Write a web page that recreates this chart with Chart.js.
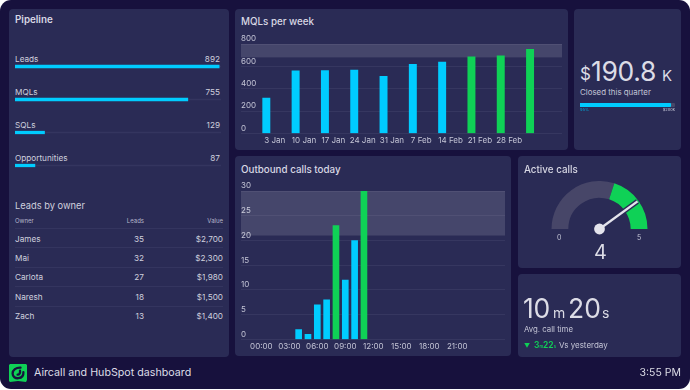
<!DOCTYPE html>
<html>
<head>
<meta charset="utf-8">
<title>Aircall and HubSpot dashboard</title>
<script src="https://cdn.jsdelivr.net/npm/chart.js@4"></script>
<style>
  html, body { margin: 0; padding: 0; background: #fff; }
  body { width: 690px; height: 390px; overflow: hidden; font-family: Inter, sans-serif; color: #dcdce6; }
  #frame { position: absolute; left: 0; top: 0; width: 690px; height: 389px; background: #17113d; border-radius: 11px; overflow: hidden; }
  .card { position: absolute; background: #2a2b55; border-radius: 4px; }
  .abs { position: absolute; white-space: nowrap; }
  .title { font-size: 9.8px; font-weight: 500; color: #d8d8e4; }
  canvas { position: absolute; }
  .row-label { font-size: 8.2px; color: #cfd0de; }
  .num { text-align: right; }
  .rule { position: absolute; left: 15px; width: 208px; height: 1px; background: #34355f; }
  #logo { position: absolute; left: 9px; top: 364px; width: 18px; height: 18px; }
</style>
</head>
<body>
<div id="frame">
  <div class="card" style="left:9px;top:9px;width:220px;height:348px"></div>
  <div class="card" style="left:235px;top:9px;width:333px;height:141px"></div>
  <div class="card" style="left:574px;top:9px;width:107px;height:141px"></div>
  <div class="card" style="left:235px;top:156px;width:276px;height:200px"></div>
  <div class="card" style="left:518px;top:156px;width:163px;height:112px"></div>
  <div class="card" style="left:518px;top:274px;width:163px;height:83px"></div>

  <div class="abs title" style="left:15px;top:14px;font-weight:600">Pipeline</div>
  <div id="pipelineText"></div>
  <canvas id="pipelineChart" style="left:15px;top:50px"></canvas>

  <div class="abs" style="left:15px;top:200px;font-size:9.3px;color:#cfd0de">Leads by owner</div>
  <div id="ownerTable"></div>

  <div class="abs title" style="left:241px;top:16px">MQLs per week</div>
  <canvas id="mqlChart" style="left:241px;top:30px"></canvas>

  <div class="abs" style="left:580px;top:64px;font-size:17px">$</div>
  <div class="abs" style="left:591px;top:55px;font-size:26.5px;letter-spacing:-.3px">190.8</div>
  <div class="abs" style="left:662px;top:66px;font-size:15px">K</div>
  <div class="abs" style="left:580px;top:87px;font-size:7.9px;color:#c4c5d6">Closed this quarter</div>
  <canvas id="closedChart" style="left:580px;top:102px"></canvas>
  <div class="abs" style="left:580px;top:107px;font-size:4px;color:#00a8d8">95%</div>
  <div class="abs" style="right:15px;top:107px;font-size:4px;color:#c4c5d6">$200k</div>

  <div class="abs title" style="left:241px;top:164px">Outbound calls today</div>
  <canvas id="callsChart" style="left:241px;top:177px"></canvas>

  <div class="abs title" style="left:524px;top:164px">Active calls</div>
  <canvas id="gaugeChart" style="left:551px;top:181px"></canvas>
  <div class="abs" style="left:557px;top:233px;font-size:7px;color:#c4c5d6">0</div>
  <div class="abs" style="left:637px;top:233px;font-size:7px;color:#c4c5d6">5</div>
  <div class="abs" id="gaugeText" style="left:594px;top:240px;font-size:20px"></div>

  <div class="abs" style="left:523px;top:292px;font-size:26.5px;letter-spacing:-.3px">10</div>
  <div class="abs" style="left:553px;top:304px;font-size:14px">m</div>
  <div class="abs" style="left:568px;top:292px;font-size:26.5px">20</div>
  <div class="abs" style="left:602px;top:304px;font-size:14px">s</div>
  <div class="abs" style="left:524px;top:324px;font-size:7.8px;color:#c4c5d6">Avg. call time</div>
  <div class="abs" style="left:524px;top:342px;font-size:6px;color:#0fd156">▼</div>
  <div class="abs" style="left:534px;top:340px;font-size:8.5px;color:#0fd156;font-weight:600">3<span style="font-size:4px">m</span>22<span style="font-size:4px">s</span></div>
  <div class="abs" style="left:559px;top:340px;font-size:8px;color:#c4c5d6">Vs yesterday</div>

  <svg id="logo" viewBox="0 0 18 18">
    <path d="M1 0H17L18 1V16L17 18L9 17L1 18L0 17V1Z" fill="#0fd156"/>
    <path d="M11.5 3.6C7 3.4 3.6 6 3.6 9.6C3.6 12.8 6.4 14.6 9.4 14.2C12.4 13.8 14.6 11.6 14.4 8.2M11 6.6C11.4 9 10.2 10.8 8.6 10.6" fill="none" stroke="#17113d" stroke-width="2.3" stroke-linecap="round"/>
  </svg>
  <div class="abs" style="left:34px;top:366px;font-size:10.7px">Aircall and HubSpot dashboard</div>
  <div class="abs" style="right:9px;top:366px;font-size:10.5px">3:55 PM</div>
</div>

<script>
const pipelineStages = ['Leads', 'MQLs', 'SQLs', 'Opportunities'];
const pipelineValues = [892, 755, 129, 87];
const pipelineMax = 900;

const owners = ['James', 'Mai', 'Carlota', 'Naresh', 'Zach'];
const ownerLeads = [35, 32, 27, 18, 13];
const ownerValues = ['$2,700', '$2,300', '$1,980', '$1,500', '$1,400'];

const mqlWeeks = ['3 Jan', '10 Jan', '17 Jan', '24 Jan', '31 Jan', '7 Feb', '14 Feb', '21 Feb', '28 Feb'];
const mqlValues = [317, 560, 563, 566, 510, 617, 638, 686, 695, 752];
const mqlTarget = 680;
const mqlTicks = [0, 200, 400, 600, 800];

const callHours = [4, 5, 6, 7, 8, 9, 10, 11];
const callValues = [2, 1, 7, 8, 23, 12, 20, 30];
const callLabels = ['00:00', '03:00', '06:00', '09:00', '12:00', '15:00', '18:00', '21:00'];
const callTarget = 21;
const callTicks = [0, 5, 10, 15, 20, 25, 30];

const closedValue = 95.5;
const closedMax = 100;

const gaugeSegments = [3, 2];
const gaugeValue = 4;
const gaugeMax = 5;

const CYAN = '#00ccff', GREEN = '#0fd156', BAND = '#474668', GRID = '#363760', TICK = '#c4c5d6';
const FONT = { family: 'Inter, sans-serif', size: 8 };

function sizeCanvas(id, w, h) {
  const c = document.getElementById(id);
  c.width = w; c.height = h;
  c.style.width = w + 'px'; c.style.height = h + 'px';
  return c.getContext('2d');
}

// pipeline text + owner table
let html = '';
pipelineStages.forEach((s, i) => {
  const top = 54 + i * 33;
  html += `<div class="abs row-label" style="left:15px;top:${top}px">${s}</div>`;
  html += `<div class="abs row-label num" style="right:470px;top:${top}px">${pipelineValues[i]}</div>`;
});
document.getElementById('pipelineText').innerHTML = html;

html = '<div class="abs" style="left:15px;top:217px;font-size:6px;color:#b4b5ca">Owner</div>'
  + '<div class="abs num" style="right:546px;top:217px;font-size:6px;color:#b4b5ca">Leads</div>'
  + '<div class="abs num" style="right:467px;top:217px;font-size:6px;color:#b4b5ca">Value</div>';
owners.forEach((o, i) => {
  const top = 233.5 + i * 19.4;
  html += `<div class="rule" style="top:${228 + i * 19.4}px"></div>`;
  html += `<div class="abs row-label" style="left:15px;top:${top}px">${o}</div>`;
  html += `<div class="abs row-label num" style="right:546px;top:${top}px">${ownerLeads[i]}</div>`;
  html += `<div class="abs row-label num" style="right:467px;top:${top}px">${ownerValues[i]}</div>`;
});
document.getElementById('ownerTable').innerHTML = html;

const bandPlugin = {
  id: 'band',
  beforeDatasetsDraw(chart, args, opts) {
    const { ctx, chartArea, scales } = chart;
    const top = scales.y.getPixelForValue(opts.to);
    const bottom = scales.y.getPixelForValue(opts.from);
    ctx.save();
    ctx.fillStyle = 'rgba(255,255,255,0.13)';
    ctx.fillRect(chartArea.left, top, chartArea.right - chartArea.left, bottom - top);
    ctx.restore();
  }
};

function barOptions(cfg) {
  return {
    responsive: false,
    animation: false,
    layout: { padding: { top: cfg.paddingTop } },
    plugins: { legend: { display: false }, tooltip: { enabled: false }, band: { from: cfg.from, to: cfg.to } },
    scales: {
      x: {
        type: 'linear', offset: false, min: cfg.xMin, max: cfg.xMax,
        afterBuildTicks(axis) { axis.ticks = cfg.xTicks.map(v => ({ value: v })); },
        grid: { display: false, drawTicks: false },
        border: { display: false },
        ticks: {
          autoSkip: false, maxRotation: 0, color: TICK, font: FONT, padding: 2,
          labelOffset: cfg.labelOffset,
          callback: cfg.xLabel
        }
      },
      y: {
        min: 0, max: cfg.yMax,
        afterBuildTicks(axis) { axis.ticks = cfg.yTicks.map(v => ({ value: v })); },
        grid: { color: GRID, drawTicks: false },
        border: { display: false },
        ticks: { mirror: true, padding: 0, labelOffset: -5, color: TICK, font: FONT }
      }
    }
  };
}

new Chart(sizeCanvas('mqlChart', 321, 117), {
  type: 'bar',
  data: { datasets: [{
    data: mqlValues.map((y, i) => ({ x: i, y })),
    backgroundColor: mqlValues.map(v => v >= mqlTarget ? GREEN : CYAN),
    barThickness: 7.3
  }] },
  options: barOptions({
    paddingTop: 14,
    xMin: -0.864, xMax: 10.09,
    xTicks: mqlWeeks.map((w, i) => i),
    xLabel: v => mqlWeeks[v],
    labelOffset: 8.4,
    yMax: 800, yTicks: mqlTicks,
    from: mqlTarget, to: 800
  }),
  plugins: [bandPlugin]
});

new Chart(sizeCanvas('callsChart', 264, 176), {
  type: 'bar',
  data: { datasets: [{
    data: callValues.map((y, i) => ({ x: callHours[i], y })),
    backgroundColor: callValues.map(v => v >= callTarget ? GREEN : CYAN),
    barThickness: 6
  }] },
  options: barOptions({
    paddingTop: 14,
    xMin: -2.18, xMax: 26.12,
    xTicks: callLabels.map((l, i) => i * 3),
    xLabel: v => callLabels[v / 3],
    labelOffset: 0,
    yMax: 30, yTicks: callTicks,
    from: callTarget, to: 30
  }),
  plugins: [bandPlugin]
});

function progressOptions(max) {
  return {
    indexAxis: 'y', responsive: false, animation: false,
    plugins: { legend: { display: false }, tooltip: { enabled: false } },
    scales: {
      x: { display: false, min: 0, max },
      y: { display: false }
    }
  };
}

new Chart(sizeCanvas('pipelineChart', 206, 132), {
  type: 'bar',
  data: {
    labels: pipelineStages,
    datasets: [
      { data: pipelineValues, backgroundColor: CYAN, barThickness: 2.6, grouped: false, order: 1 },
      { data: pipelineStages.map(() => pipelineMax), backgroundColor: '#34355f', barThickness: 1, grouped: false, order: 2 }
    ]
  },
  options: progressOptions(pipelineMax)
});

new Chart(sizeCanvas('closedChart', 95, 6), {
  type: 'bar',
  data: {
    labels: ['Closed'],
    datasets: [
      { data: [closedValue], backgroundColor: CYAN, barThickness: 3.4, grouped: false, order: 1, borderRadius: 1 },
      { data: [closedMax], backgroundColor: BAND, barThickness: 3.4, grouped: false, order: 2, borderRadius: 1.5 }
    ]
  },
  options: progressOptions(closedMax)
});

const needlePlugin = {
  id: 'needle',
  afterDatasetsDraw(chart) {
    const arc = chart.getDatasetMeta(0).data[0];
    const a = Math.PI + Math.PI * gaugeValue / gaugeMax;
    const tipX = arc.x + Math.cos(a) * 47, tipY = arc.y + Math.sin(a) * 47;
    const ctx = chart.ctx;
    ctx.save();
    ctx.lineCap = 'butt';
    ctx.beginPath(); ctx.moveTo(arc.x, arc.y); ctx.lineTo(tipX, tipY);
    ctx.strokeStyle = '#2a2b55'; ctx.lineWidth = 5; ctx.stroke();
    ctx.beginPath(); ctx.moveTo(arc.x, arc.y); ctx.lineTo(tipX, tipY);
    ctx.strokeStyle = '#e4e4ec'; ctx.lineWidth = 2.4; ctx.stroke();
    ctx.beginPath(); ctx.arc(arc.x, arc.y, 5.4, 0, Math.PI * 2);
    ctx.fillStyle = '#e4e4ec'; ctx.fill();
    ctx.restore();
  }
};

new Chart(sizeCanvas('gaugeChart', 97, 56), {
  type: 'doughnut',
  data: { datasets: [{ data: gaugeSegments, backgroundColor: [BAND, GREEN], borderWidth: 0 }] },
  options: {
    responsive: false, animation: false,
    rotation: -90, circumference: 180, cutout: '65%',
    layout: { padding: { bottom: 8 } },
    plugins: { legend: { display: false }, tooltip: { enabled: false } }
  },
  plugins: [needlePlugin]
});
document.getElementById('gaugeText').textContent = gaugeValue;
</script>
</body>
</html>
